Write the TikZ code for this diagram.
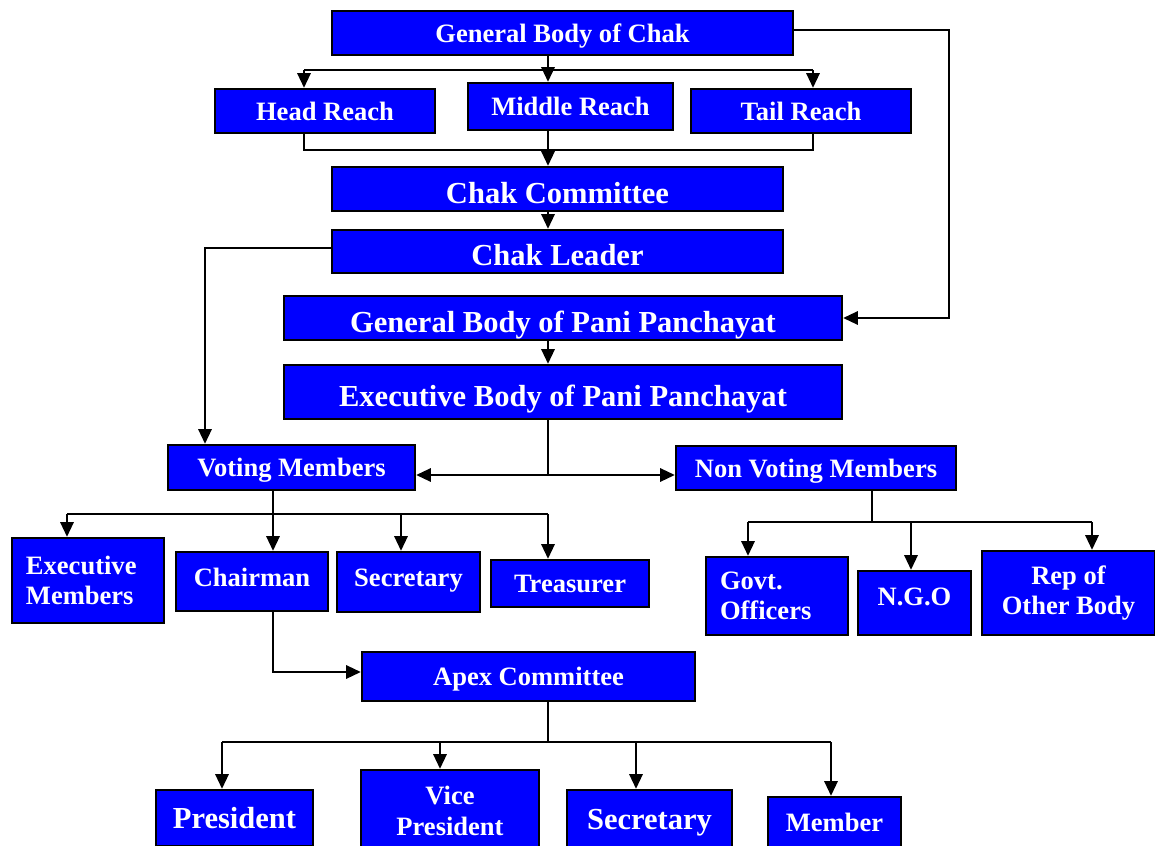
\documentclass[tikz,border=0pt]{standalone}
\usepackage{fontspec}
\setmainfont{Liberation Serif}
\usetikzlibrary{arrows.meta}
\usetikzlibrary{positioning}

\tikzset{
  unit/.style={draw=black, line width=1.8pt, fill=blue, text=white, inner sep=0pt, align=center},
  sz/.style 2 args={minimum width=#1*0.75pt, minimum height=#2*0.75pt},
  txt/.style={font=\bfseries\fontsize{19.9}{23}\selectfont, text depth=0pt},
  bigtxt/.style={font=\bfseries\fontsize{22.9}{26}\selectfont, text height=21pt, text depth=0pt},
  lines/.style={text height=, text depth=},
  link/.style={draw=black, line width=1.5pt},
  arr/.style={link, -{Triangle[length=11pt,width=10pt]}},
}

\begin{document}
\begin{tikzpicture}[x=0.75pt, y=-0.75pt]
\useasboundingbox (0,0) rectangle (1155,845);
\clip (0,0) rectangle (1155,845);

                \node[unit, txt, sz={461}{44}] (gb_chak) at (562.5,33) {General Body of Chak};
                \node[unit, txt, sz={220}{44}] (head_r) at (325,111) {Head Reach};
                \node[unit, txt, sz={205}{47}] (mid_r) at (570.5,106.5) {Middle Reach};
                \node[unit, txt, sz={220}{44}] (tail_r) at (801,111) {Tail Reach};
                \node[unit, bigtxt, sz={451}{44}] (chak_com) at (557.5,189) {Chak Committee};
                \node[unit, bigtxt, sz={451}{43}] (chak_lead) at (557.5,251.5) {Chak Leader};
                \node[unit, bigtxt, sz={558}{44}] (gb_pani) at (563,318) {General Body of Pani Panchayat};
                \node[unit, bigtxt, sz={558}{54}] (ex_pani) at (563,392) {Executive Body of Pani Panchayat};
                \node[unit, txt, sz={247}{45}] (vote) at (291.5,467.5) {Voting Members};
                \node[unit, txt, sz={280}{44}] (nonvote) at (816,468) {Non Voting Members};

                % voting side
                \node[unit, txt, lines, sz={152}{85}, text width=93pt, align=left] (exec_mem) at (88,580.5) {Executive\\Members};
                \node[unit, txt, sz={152}{59}, text depth=6.75pt] (chair) at (252,581.5) {Chairman};
                \node[unit, txt, sz={143}{60}, text depth=6.75pt] (secy) at (408.5,582) {Secretary};
                \node[unit, txt, sz={158}{47}] (treas) at (570,583.5) {Treasurer};

                % non voting side
                \node[unit, txt, lines, sz={142}{78}, text width=85.5pt, align=left] (govt) at (777,596) {Govt.\\Officers};
                \node[unit, txt, sz={113}{64}, text depth=10pt] (ngo) at (914.5,603) {N.G.O};
                \node[unit, txt, lines, sz={173}{84}] (rep) at (1068.5,593) {Rep of\\Other Body};

                % apex
                \node[unit, txt, sz={333}{49}] (apex) at (528.5,676.5) {Apex Committee};
                \node[unit, bigtxt, lines, sz={157}{56}] (pres) at (234.5,818) {President};
                \node[unit, txt, lines, sz={178}{82}] (vice) at (450,811) {Vice\\President};
                \node[unit, bigtxt, text height=, sz={165}{58}] (secy_b) at (649.5,819) {Secretary};
                \node[unit, txt, sz={133}{50}] (memb) at (834.5,822) {Member};

                \coordinate (f_1) at (548,70);
                \coordinate (f_1l) at (304,70);
                \coordinate (f_1r) at (813,70);
                \coordinate (j_1l) at (304,150);
                \coordinate (j_1r) at (813,150);
                \coordinate (c_1) at (205,248);
                \coordinate (c_2) at (949,30);
                \coordinate (f_2) at (548,475);
                \coordinate (f_3) at (273,514);
                \coordinate (f_3l) at (67,514);
                \coordinate (f_3a) at (401,514);
                \coordinate (f_3r) at (548,514);
                \coordinate (c_3) at (273,672);
                \coordinate (f_4) at (548,742);
                \coordinate (f_4l) at (222,742);
                \coordinate (f_4a) at (440,742);
                \coordinate (f_4b) at (636,742);
                \coordinate (f_4r) at (831,742);
                \coordinate (f_5) at (872,522);
                \coordinate (f_5l) at (748,522);
                \coordinate (f_5a) at (911,522);
                \coordinate (f_5r) at (1092,522);

                % reaches
                \draw[arr] (gb_chak.south -| f_1) -- (f_1 |- mid_r.north);
                \draw[link] (f_1l) -- (f_1r);
                \draw[arr] (f_1l) -- (f_1l |- head_r.north);
                \draw[arr] (f_1r) -- (f_1r |- tail_r.north);
                \draw[link] (head_r.south -| j_1l) -- (j_1l) -- (j_1r) -- (tail_r.south -| j_1r);
                \draw[arr] (mid_r.south -| f_1) -- (f_1 |- chak_com.north);
                \draw[arr] (chak_com.south -| f_1) -- (f_1 |- chak_lead.north);

                \draw[arr] (chak_lead.west |- c_1) -- (c_1) -- (c_1 |- vote.north);
                \draw[arr] (gb_chak.east |- c_2) -- (c_2) |- (gb_pani.east);

                \draw[arr] (gb_pani.south -| f_1) -- (f_1 |- ex_pani.north);
                \draw[link] (ex_pani.south -| f_2) -- (f_2);
                \draw[arr] (f_2) -- (vote.east |- f_2);
                \draw[arr] (f_2) -- (nonvote.west |- f_2);

                % voting members
                \draw[link] (f_3l) -- (f_3r);
                \draw[arr] (vote.south -| f_3) -- (f_3 |- chair.north);
                \draw[arr] (f_3l) -- (f_3l |- exec_mem.north);
                \draw[arr] (f_3a) -- (f_3a |- secy.north);
                \draw[arr] (f_3r) -- (f_3r |- treas.north);
                \draw[arr] (chair.south -| c_3) -- (c_3) -- (apex.west |- c_3);

                % non voting members
                \draw[link] (nonvote.south -| f_5) -- (f_5);
                \draw[link] (f_5l) -- (f_5r);
                \draw[arr] (f_5l) -- (f_5l |- govt.north);
                \draw[arr] (f_5a) -- (f_5a |- ngo.north);
                \draw[arr] (f_5r) -- (f_5r |- rep.north);

                % apex committee
                \draw[link] (apex.south -| f_4) -- (f_4);
                \draw[link] (f_4l) -- (f_4r);
                \draw[arr] (f_4l) -- (f_4l |- pres.north);
                \draw[arr] (f_4a) -- (f_4a |- vice.north);
                \draw[arr] (f_4b) -- (f_4b |- secy_b.north);
                \draw[arr] (f_4r) -- (f_4r |- memb.north);

\end{tikzpicture}
\end{document}
